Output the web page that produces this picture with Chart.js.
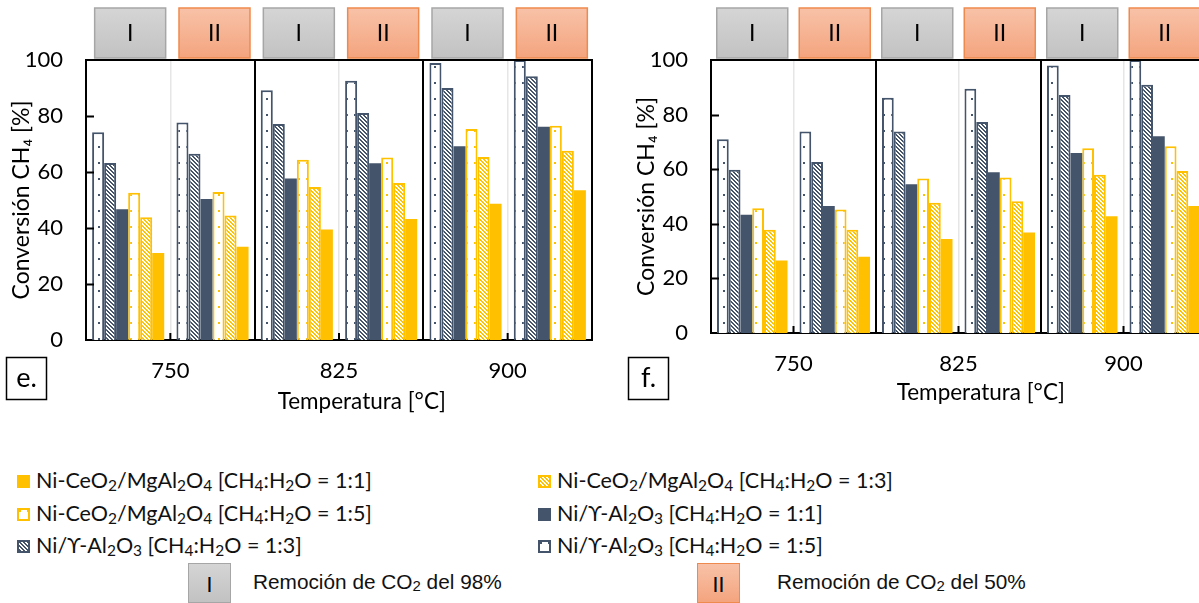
<!DOCTYPE html>
<html>
<head>
<meta charset="utf-8">
<script src="https://cdn.jsdelivr.net/npm/chart.js@4.4.1/dist/chart.umd.min.js"></script>
<style>
  html, body { margin: 0; padding: 0; width: 1199px; height: 603px; overflow: hidden; background: #fff; }
  canvas { position: absolute; top: 0; }
  #chartE { left: 0; }
  #chartF { left: 625px; }
  .leg { position: absolute; font-family: Lato, "DejaVu Sans", sans-serif; font-size: 21.5px; color: #111; white-space: nowrap; line-height: 1; }
  .leg sub { font-size: 0.72em; vertical-align: -0.2em; line-height: 0; }
  .sw { position: absolute; }
  .tag { position: absolute; width: 43px; height: 40px; box-sizing: border-box; border: 1.5px solid #a6a6a6;
         background: linear-gradient(#d5d5d5, #c2c2c2); font-family: Lato, sans-serif; font-size: 21px;
         text-align: center; line-height: 40px; color: #000; }
  .tag.two { border-color: #ef8a4e; background: linear-gradient(#f8c2a8, #f4a47e); }
  .note { position: absolute; font-family: "Liberation Sans", Arial, sans-serif; font-size: 20.8px; color: #111; white-space: nowrap; line-height: 1; }
  .note sub { font-size: 0.72em; vertical-align: -0.15em; line-height: 0; }
</style>
</head>
<body>
<canvas id="chartE" width="600" height="420"></canvas>
<canvas id="chartF" width="600" height="420"></canvas>
<div id="legend"></div>

<script>
// categories: temperature groups, each split in I (98% CO2 removal) and II (50%)
const subcats = ['750 I', '750 II', '825 I', '825 II', '900 I', '900 II'];
const temps = ['750', '825', '900'];
const removal = ['I', 'II', 'I', 'II', 'I', 'II'];

const seriesNames = [
  'Ni/ϒ-Al₂O₃ [CH₄:H₂O = 1:5]',
  'Ni/ϒ-Al₂O₃ [CH₄:H₂O = 1:3]',
  'Ni/ϒ-Al₂O₃ [CH₄:H₂O = 1:1]',
  'Ni-CeO₂/MgAl₂O₄ [CH₄:H₂O = 1:5]',
  'Ni-CeO₂/MgAl₂O₄ [CH₄:H₂O = 1:3]',
  'Ni-CeO₂/MgAl₂O₄ [CH₄:H₂O = 1:1]'
];

// panel e
const eAl15 = [74.2, 77.7, 89.2, 92.6, 98.9, 100];
const eAl13 = [63.2, 66.5, 77.1, 81.1, 90.0, 94.2];
const eAl11 = [46.7, 50.4, 57.7, 63.1, 69.2, 76.2];
const eCe15 = [52.6, 52.9, 64.4, 65.2, 75.4, 76.5];
const eCe13 = [43.8, 44.5, 54.6, 56.1, 65.4, 67.6];
const eCe11 = [31.1, 33.3, 39.5, 43.2, 48.7, 53.5];

// panel f
const fAl15 = [71.0, 73.8, 86.2, 89.5, 98.0, 100];
const fAl13 = [59.8, 62.6, 73.8, 77.3, 87.2, 90.9];
const fAl11 = [43.3, 46.5, 54.5, 58.9, 65.9, 72.1];
const fCe15 = [45.7, 45.2, 56.6, 57.0, 67.7, 68.4];
const fCe13 = [37.8, 37.8, 47.7, 48.3, 58.0, 59.3];
const fCe11 = [26.6, 27.9, 34.4, 36.8, 42.8, 46.5];

const SLATE = '#44546A';
const GOLD = '#FFC000';
const FONT = 'Lato, "DejaVu Sans", sans-serif';

function makePattern(kind, color) {
  const c = document.createElement('canvas');
  const g = c.getContext('2d');
  if (kind === 'dots') {
    c.width = 8; c.height = 16;
    g.fillStyle = '#fff'; g.fillRect(0, 0, 8, 16);
    g.fillStyle = color; g.fillRect(2, 2, 2, 2);
  } else {
    c.width = 4; c.height = 4;
    g.fillStyle = '#fff'; g.fillRect(0, 0, 4, 4);
    g.fillStyle = color;
    for (let r = 0; r < 4; r++) {
      g.fillRect(r, r, 1, 1);
      g.fillRect((r + 1) % 4, r, 1, 1);
    }
  }
  return g.createPattern(c, 'repeat');
}

const styles = [
  { backgroundColor: makePattern('dots', SLATE), borderColor: SLATE, borderWidth: 2 },
  { backgroundColor: makePattern('hatch', SLATE), borderColor: SLATE, borderWidth: 2 },
  { backgroundColor: SLATE, borderWidth: 0 },
  { backgroundColor: makePattern('dots', GOLD), borderColor: GOLD, borderWidth: 2 },
  { backgroundColor: makePattern('hatch', GOLD), borderColor: GOLD, borderWidth: 2 },
  { backgroundColor: GOLD, borderWidth: 0 }
];

function drawTag(ctx, x, y, w, h, txt) {
  const two = txt === 'II';
  const grad = ctx.createLinearGradient(0, y, 0, y + h);
  grad.addColorStop(0, two ? '#f8c2a8' : '#d5d5d5');
  grad.addColorStop(1, two ? '#f4a47e' : '#c2c2c2');
  ctx.fillStyle = grad;
  ctx.fillRect(x, y, w, h);
  ctx.strokeStyle = two ? '#ef8a4e' : '#a6a6a6';
  ctx.lineWidth = 1.5;
  ctx.strokeRect(x, y, w, h);
  ctx.fillStyle = '#000';
  ctx.font = '23px ' + FONT;
  ctx.textAlign = 'center';
  ctx.textBaseline = 'middle';
  ctx.fillText(txt, x + w / 2, y + h / 2 + 1);
}

const decor = {
  id: 'decor',
  afterDraw(chart, args, o) {
    const { ctx, chartArea: a, scales: { x, y } } = chart;
    ctx.save();
    ctx.strokeStyle = '#000';
    ctx.lineWidth = 2;
    // top frame
    ctx.beginPath();
    ctx.moveTo(a.left - 1, a.top);
    ctx.lineTo(a.right + 1, a.top);
    ctx.stroke();
    // inward y ticks
    ctx.beginPath();
    [20, 40, 60, 80].forEach(v => {
      const py = Math.round(y.getPixelForValue(v)) + 0.5;
      ctx.moveTo(a.left, py);
      ctx.lineTo(a.left + 8, py);
    });
    // short marks between I and II
    [0, 2, 4].forEach(i => {
      const px = (x.getPixelForValue(i) + x.getPixelForValue(i + 1)) / 2;
      ctx.moveTo(px, a.bottom);
      ctx.lineTo(px, a.bottom - 7);
    });
    ctx.stroke();
    // CO2 removal tags above each sub-group
    removal.forEach((r, i) => {
      const cx = x.getPixelForValue(i) + o.tagShift;
      drawTag(ctx, cx - 35.5, 8, 71, 50, r);
    });
    // x title
    ctx.fillStyle = '#000';
    ctx.font = '22.5px ' + FONT;
    ctx.textAlign = 'center';
    ctx.textBaseline = 'middle';
    ctx.fillText('Temperatura [°C]', a.left + (a.right - a.left) * 0.545, a.bottom + o.titleDy);
    // panel letter
    ctx.strokeStyle = '#000';
    ctx.lineWidth = 1.5;
    ctx.strokeRect(o.boxX + 0.5, 357.5, 40, 42);
    ctx.font = '27px ' + FONT;
    ctx.fillText(o.letter, o.boxX + 20.5, 378);
    ctx.restore();
  }
};

function makePanel(id, series, cfg) {
  return new Chart(document.getElementById(id), {
    type: 'bar',
    data: {
      labels: subcats,
      datasets: series.map((d, i) => Object.assign({ label: seriesNames[i], data: d, xAxisID: 'x', yAxisID: 'y' }, styles[i]))
    },
    options: {
      responsive: false,
      animation: false,
      layout: { padding: { top: 60, right: cfg.padRight, bottom: cfg.padBottom, left: 0 } },
      datasets: { bar: { categoryPercentage: 0.855, barPercentage: 1 } },
      plugins: { legend: { display: false }, tooltip: { enabled: false }, decor: cfg },
      scales: {
        x: {
          type: 'category',
          offset: true,
          grid: {
            offset: true,
            drawTicks: false,
            color: c => (c.index % 2 === 1 ? '#e6e6e6' : '#000'),
            lineWidth: c => (c.index % 2 === 1 ? 1.5 : 2)
          },
          ticks: { display: false },
          border: { color: '#000', width: 2 },
          afterFit: s => { s.height = 0; }
        },
        x2: {
          type: 'category',
          labels: temps,
          position: 'bottom',
          offset: true,
          grid: { display: false, drawTicks: false },
          border: { display: false },
          ticks: { color: '#000', font: { family: FONT, size: 22 }, padding: 18 },
          afterFit: s => { s.height = 40; }
        },
        y: {
          min: 0,
          max: 100,
          grid: { display: false, drawTicks: false },
          border: { color: '#000', width: 2 },
          ticks: { stepSize: 20, color: '#000', font: { family: FONT, size: 22 }, padding: 23 },
          title: { display: true, text: 'Conversión CH₄ [%]', color: '#000', font: { family: FONT, size: 23 }, padding: { top: 8 } },
          afterFit: s => { s.width = 86; }
        }
      }
    },
    plugins: [decor]
  });
}

makePanel('chartE', [eAl15, eAl13, eAl11, eCe15, eCe13, eCe11],
  { padRight: 8, padBottom: 40, tagShift: 2, titleDy: 62, boxX: 6, letter: 'e.' });
makePanel('chartF', [fAl15, fAl13, fAl11, fCe15, fCe13, fCe11],
  { padRight: 19, padBottom: 47, tagShift: 0, titleDy: 60, boxX: 3, letter: 'f.' });

// shared legend (Excel order: reversed series, filled row by row)
const legOrder = [5, 4, 3, 2, 1, 0];
const legRows = [481, 514, 546];
const legCols = [17, 538];
const legRoot = document.getElementById('legend');
const toSub = s => s.replace(/[₀-₉]/g, ch => '<sub>' + (ch.charCodeAt(0) - 0x2080) + '</sub>');
legOrder.forEach((si, k) => {
  const row = Math.floor(k / 2), col = k % 2;
  const sw = document.createElement('canvas');
  sw.width = 13; sw.height = 13; sw.className = 'sw';
  sw.style.left = legCols[col] + 'px';
  sw.style.top = (legRows[row] - 6) + 'px';
  const g = sw.getContext('2d');
  g.fillStyle = styles[si].backgroundColor;
  g.fillRect(0, 0, 13, 13);
  if (styles[si].borderWidth) {
    g.strokeStyle = styles[si].borderColor;
    g.lineWidth = 2;
    g.strokeRect(1, 1, 11, 11);
  }
  legRoot.appendChild(sw);
  const t = document.createElement('div');
  t.className = 'leg';
  t.style.left = (legCols[col] + 19) + 'px';
  t.style.top = (legRows[row] - 11) + 'px';
  t.innerHTML = toSub(seriesNames[si]);
  legRoot.appendChild(t);
});

// CO2 removal key
const removalKey = [
  { tag: 'I', text: 'Remoción de CO<sub>2</sub> del 98%', x: 188, tx: 253 },
  { tag: 'II', text: 'Remoción de CO<sub>2</sub> del 50%', x: 697, tx: 777 }
];
removalKey.forEach(r => {
  const b = document.createElement('div');
  b.className = 'tag' + (r.tag === 'II' ? ' two' : '');
  b.style.left = r.x + 'px'; b.style.top = '563px';
  b.textContent = r.tag;
  legRoot.appendChild(b);
  const t = document.createElement('div');
  t.className = 'note';
  t.style.left = r.tx + 'px'; t.style.top = '572px';
  t.innerHTML = r.text;
  legRoot.appendChild(t);
});
</script>
</body>
</html>
